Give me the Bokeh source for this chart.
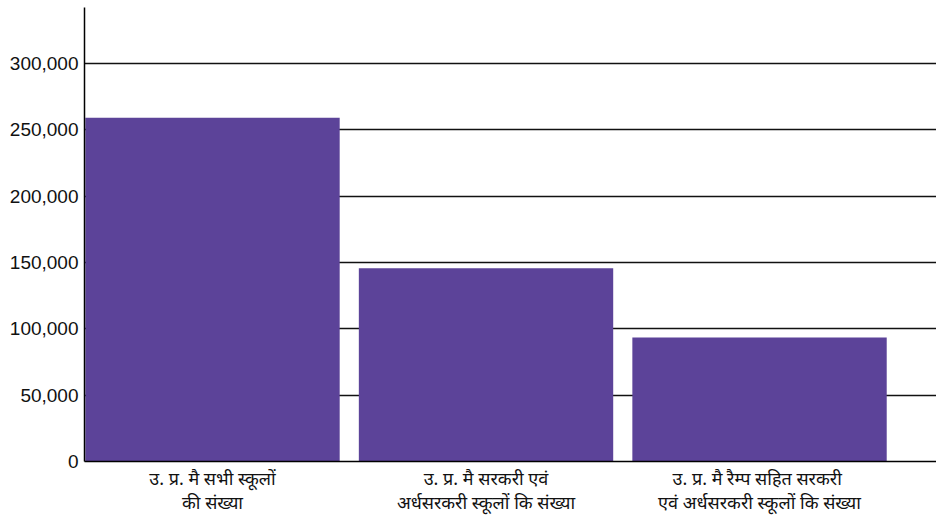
from bokeh.plotting import figure
from bokeh.models import Range1d, FixedTicker, NumeralTickFormatter
from bokeh.embed import file_html
from bokeh.resources import INLINE

# School counts in Uttar Pradesh
categories = [
    "उ. प्र. मै सभी स्कूलों\nकी संख्या",
    "उ. प्र. मै सरकरी एवं\nअर्धसरकरी स्कूलों कि संख्या",
    "उ. प्र. मै  रैम्प सहित सरकरी\nएवं अर्धसरकरी स्कूलों कि संख्या",
]
counts = [259000, 145500, 93500]
y_ticks = [0, 50000, 100000, 150000, 200000, 250000, 300000]

xs = list(range(len(categories)))

p = figure(
    width=936, height=516,
    output_backend="svg", toolbar_location=None,
    x_range=Range1d(-0.468, 2.647), y_range=Range1d(0, 342000),
    min_border_left=84, min_border_right=0, min_border_top=7, min_border_bottom=55,
)
p.outline_line_color = None
p.background_fill_color = "white"
p.border_fill_color = "white"

p.vbar(x=xs, top=counts, width=0.93, fill_color="#5C4399", line_color=None)

# y axis
yax = p.yaxis[0]
yax.ticker = FixedTicker(ticks=y_ticks)
yax.formatter = NumeralTickFormatter(format="0,0")
yax.axis_line_color = "black"
yax.axis_line_width = 1.5
yax.major_tick_line_color = None
yax.major_tick_out = 0
yax.major_tick_in = 0
yax.minor_tick_line_color = None
yax.major_label_standoff = 6
yax.major_label_text_font = "Liberation Sans"
yax.major_label_text_font_size = "19px"
yax.major_label_text_color = "#111111"

# x axis with category labels
xax = p.xaxis[0]
xax.ticker = FixedTicker(ticks=xs)
xax.major_label_overrides = {i: c for i, c in zip(xs, categories)}
xax.axis_line_color = "black"
xax.axis_line_width = 1.5
xax.major_tick_line_color = None
xax.major_tick_out = 0
xax.major_tick_in = 0
xax.minor_tick_line_color = None
xax.major_label_standoff = 4
xax.major_label_text_font = "Noto Sans"
xax.major_label_text_font_size = "18px"
xax.major_label_text_line_height = 1.0
xax.major_label_text_color = "#111111"

p.xgrid.grid_line_color = None
p.ygrid.ticker = FixedTicker(ticks=y_ticks)
p.ygrid.grid_line_color = "#111111"
p.ygrid.grid_line_width = 1.3

open("out.html", "w").write(file_html(p, INLINE))
